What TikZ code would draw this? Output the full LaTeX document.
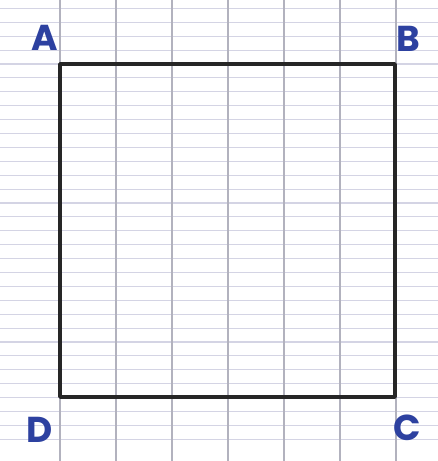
\documentclass[tikz,border=0pt]{standalone}
\usepackage{fontspec}
\setmainfont{Poppins}
\definecolor{hline}{RGB}{212,212,228}
\definecolor{vline}{RGB}{178,178,190}
\definecolor{ink}{RGB}{45,65,160}
\tikzset{
  lbl/.style={text=ink, font=\fontsize{36}{36}\selectfont\bfseries, inner sep=0pt},
  sq/.style={draw=black!85, line width=3.5pt, line join=round}
}
\begin{document}
\begin{tikzpicture}[x=1pt,y=-1pt]
\useasboundingbox (0,0) rectangle (438,461);
\fill[white] (0,0) rectangle (438,461);
% ruled paper: horizontal lines
\foreach \k in {-4,...,27} {
  \draw[hline, line width=1.1pt] (0,{64+13.9*\k}) -- (438,{64+13.9*\k});
}
% vertical lines
\foreach \k in {0,...,6} {
  \draw[vline, line width=1.2pt] ({60+56*\k},0) -- ({60+56*\k},461);
}
% square
\coordinate (A) at (60,64);
\coordinate (B) at (395,64);
\coordinate (C) at (395,397);
\coordinate (D) at (60,397);
\draw[sq] (A) -- (B) -- (C) -- (D) -- cycle;
% labels
\node[lbl] (lA) at (45,38) {A};
\node[lbl] (lB) at (408,39) {B};
\node[lbl] (lC) at (407,428) {C};
\node[lbl] (lD) at (40,430) {D};
\end{tikzpicture}
\end{document}
